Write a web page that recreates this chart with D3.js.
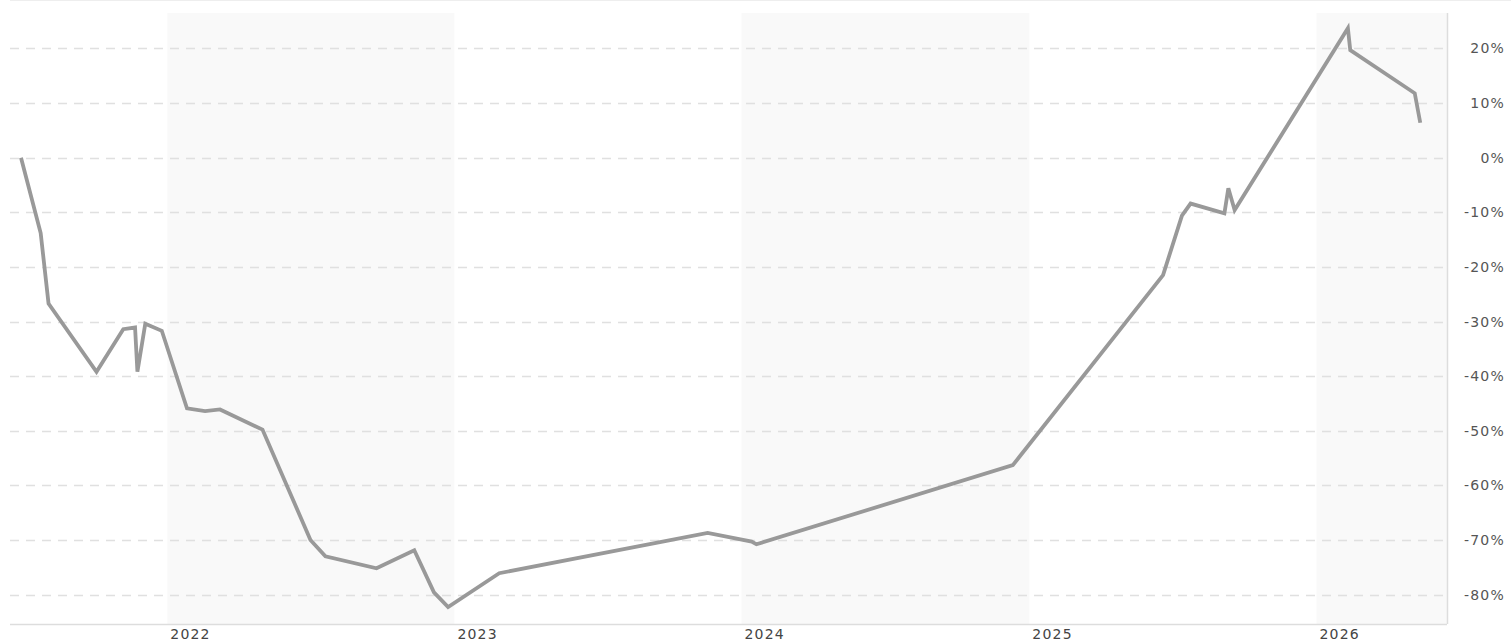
<!DOCTYPE html>
<html>
<head>
<meta charset="utf-8">
<script src="https://cdn.jsdelivr.net/npm/d3@7"></script>
<style>
    html, body { margin: 0; padding: 0; background: #fff; }
    svg { display: block; }
    text { font-family: "DejaVu Sans", Verdana, sans-serif; }
</style>
</head>
<body>
<div id="chartContainer"></div>
<script>
// price change series (percent)
var dates = [
    "2021-06-29", "2021-07-24", "2021-08-03", "2021-10-03", "2021-11-06",
    "2021-11-21", "2021-11-24", "2021-12-04", "2021-12-25", "2022-01-26",
    "2022-02-18", "2022-03-09", "2022-05-02", "2022-07-02", "2022-07-21",
    "2022-09-24", "2022-11-11", "2022-12-06", "2022-12-24", "2023-02-27",
    "2023-11-19", "2024-01-14", "2024-01-20", "2024-12-11", "2025-06-20",
    "2025-07-14", "2025-07-25", "2025-09-06", "2025-09-11", "2025-09-19",
    "2026-02-10", "2026-02-13", "2026-05-06", "2026-05-13"
];
var values = [
    0, -13.8, -26.7, -39.2, -31.4,
    -31.1, -39.2, -30.4, -31.7, -45.9,
    -46.4, -46.1, -49.8, -70.0, -73.0,
    -75.2, -71.9, -79.6, -82.3, -76.1,
    -68.7, -70.3, -70.8, -56.3, -21.5,
    -10.6, -8.4, -10.2, -5.6, -9.6,
    23.7, 19.7, 11.8, 6.4
];
var yTicks = [20, 10, 0, -10, -20, -30, -40, -50, -60, -70, -80];
var yearTicks = [2022, 2023, 2024, 2025, 2026];
var shadedYears = [2022, 2024, 2026];

var width = 1511, height = 642;
var plot = { left: 10, right: 1447, top: 13, bottom: 624 };

var parse = d3.timeParse("%Y-%m-%d");
var data = dates.map(function (d, i) { return { date: parse(d), value: values[i] }; });

var x = d3.scaleTime()
    .domain([new Date(2021, 5, 15), new Date(2026, 5, 16)])
    .range([plot.left, plot.right]);

var y = d3.scaleLinear()
    .domain([-85.4, 26.5])
    .range([plot.bottom, plot.top]);

var svg = d3.select("#chartContainer")
    .append("svg")
    .attr("width", width)
    .attr("height", height);

// top border
svg.append("line")
    .attr("x1", plot.left).attr("x2", width)
    .attr("y1", 0.5).attr("y2", 0.5)
    .attr("stroke", "#eee");

// alternating year bands
svg.append("g").selectAll("rect")
    .data(shadedYears)
    .join("rect")
    .attr("x", function (d) { return x(new Date(d, 0, 1)); })
    .attr("y", plot.top)
    .attr("width", function (d) {
        return Math.min(x(new Date(d + 1, 0, 1)), plot.right) - x(new Date(d, 0, 1));
    })
    .attr("height", plot.bottom - plot.top)
    .attr("fill", "#f9f9f9");

// dashed grid lines
svg.append("g").selectAll("line")
    .data(yTicks)
    .join("line")
    .attr("x1", plot.left).attr("x2", plot.right)
    .attr("y1", function (d) { return Math.round(y(d)) + 0.5; })
    .attr("y2", function (d) { return Math.round(y(d)) + 0.5; })
    .attr("stroke", "#e0e0e0")
    .attr("stroke-width", 1.5)
    .attr("stroke-dasharray", "9,7");

// bottom and right frame
svg.append("line")
    .attr("x1", plot.left).attr("x2", plot.right)
    .attr("y1", plot.bottom + 0.5).attr("y2", plot.bottom + 0.5)
    .attr("stroke", "#ddd").attr("stroke-width", 1.5);
svg.append("line")
    .attr("x1", plot.right + 0.5).attr("x2", plot.right + 0.5)
    .attr("y1", plot.top).attr("y2", plot.bottom)
    .attr("stroke", "#ddd").attr("stroke-width", 1.5);

// right y labels
svg.append("g").selectAll("text")
    .data(yTicks)
    .join("text")
    .attr("x", 1505)
    .attr("y", function (d) { return y(d) + 5; })
    .attr("text-anchor", "end")
    .attr("font-size", "14px")
    .attr("letter-spacing", "1.2px")
    .attr("fill", "#555")
    .text(function (d) { return d + "%"; });

// year labels
svg.append("g").selectAll("text")
    .data(yearTicks)
    .join("text")
    .attr("x", function (d) { return x(new Date(d, 0, 1)) + 3; })
    .attr("y", 639)
    .attr("font-size", "14px")
    .attr("letter-spacing", "1.2px")
    .attr("fill", "#444")
    .text(function (d) { return d; });

var line = d3.line()
    .x(function (d) { return x(d.date); })
    .y(function (d) { return y(d.value); });

svg.append("path")
    .datum(data)
    .attr("fill", "none")
    .attr("stroke", "#999")
    .attr("stroke-width", 3.8)
    .attr("d", line);
</script>
</body>
</html>
